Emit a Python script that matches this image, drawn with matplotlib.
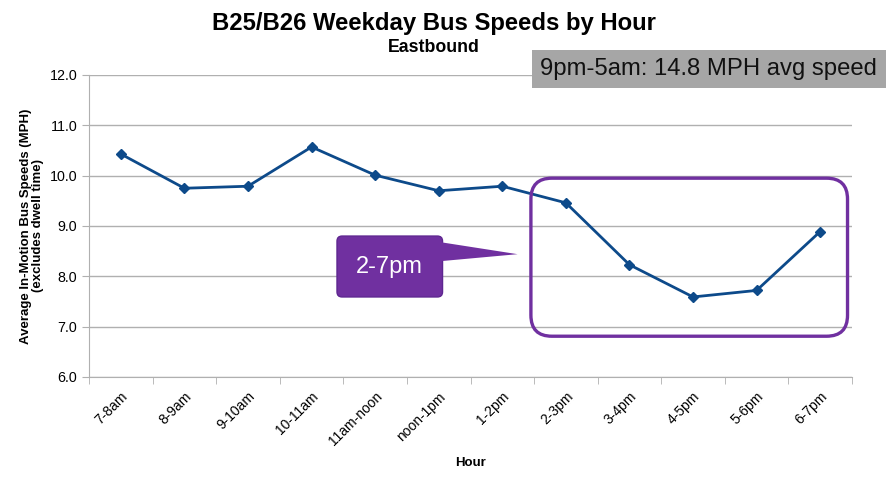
import matplotlib
matplotlib.use("Agg")
import matplotlib.pyplot as plt
from matplotlib.patches import FancyBboxPatch, Polygon, Rectangle
import numpy as np

plt.rcParams['font.family'] = ['Liberation Sans', 'DejaVu Sans']

# ---- data ----
hours = ["7-8am", "8-9am", "9-10am", "10-11am", "11am-noon", "noon-1pm",
         "1-2pm", "2-3pm", "3-4pm", "4-5pm", "5-6pm", "6-7pm"]
speeds = [10.43, 9.75, 9.79, 10.57, 10.01, 9.70, 9.79, 9.46, 8.23, 7.59, 7.72, 8.89]

LINE = "#0D4A8A"
PURPLE = "#7030A0"
GRID = "#B0B0B0"

fig = plt.figure(figsize=(8.86, 4.87), dpi=100)
ax = fig.add_axes([0.1005, 0.2259, 0.8611, 0.6201])

x = np.arange(len(hours))
ax.plot(x, speeds, color=LINE, lw=2, marker="D", ms=5.5, zorder=3)

ax.set_xlim(-0.5, len(hours) - 0.5)
ax.set_ylim(6.0, 12.0)
ax.set_yticks(np.arange(6.0, 12.01, 1.0))
ax.set_yticklabels([f"{v:.1f}" for v in np.arange(6.0, 12.01, 1.0)], fontsize=10.3)
ax.yaxis.grid(True, color=GRID, lw=1)
ax.set_axisbelow(True)

ax.set_xticks(x)
ax.set_xticklabels(hours, rotation=45, ha="right", rotation_mode="anchor", fontsize=10)
ax.tick_params(axis="x", which="major", length=0, pad=9)
ax.set_xticks(np.arange(-0.5, len(hours), 1.0), minor=True)
ax.tick_params(axis="x", which="minor", length=5, color=GRID)
ax.tick_params(axis="y", length=5, color=GRID)

for s in ["top", "right"]:
    ax.spines[s].set_visible(False)
for s in ["left", "bottom"]:
    ax.spines[s].set_color(GRID)

ax.set_xlabel("Hour", fontsize=9.5, fontweight="bold", labelpad=6)
ax.set_ylabel("Average In-Motion Bus Speeds (MPH)\n(excludes dwell time)",
              fontsize=9.5, fontweight="bold", labelpad=4, linespacing=1.0)

# titles
fig.text(0.49, 0.952, "B25/B26 Weekday Bus Speeds by Hour", ha="center", va="center",
         fontsize=17.2, fontweight="bold")
fig.text(0.49, 0.902, "Eastbound", ha="center", va="center", fontsize=12.8, fontweight="bold")

# gray note box
fig.patches.append(Rectangle((0.6005, 0.819), 0.4, 0.078, transform=fig.transFigure,
                             facecolor="#A6A6A6", edgecolor="none", zorder=5))
fig.text(0.80, 0.858, "9pm-5am: 14.8 MPH avg speed", ha="center", va="center",
         fontsize=17.2, color="#111111", zorder=6)

# purple highlight box around 2-7pm
asp = 63.6 / 50.3
hl = FancyBboxPatch((6.45, 6.81), 11.43 - 6.45, 9.95 - 6.81,
                    boxstyle="round,pad=0,rounding_size=0.33", mutation_aspect=asp,
                    facecolor="none", edgecolor=PURPLE, lw=2.4, clip_on=False, zorder=4)
ax.add_patch(hl)

# callout
co = FancyBboxPatch((3.40, 7.59), 5.06 - 3.40, 8.80 - 7.59,
                    boxstyle="round,pad=0,rounding_size=0.08", mutation_aspect=asp,
                    facecolor=PURPLE, edgecolor="#5E2690", lw=1, clip_on=False, zorder=4)
ax.add_patch(co)
ax.add_patch(Polygon([(5.02, 8.68), (6.24, 8.44), (5.02, 8.30)], closed=True,
                     facecolor=PURPLE, edgecolor="none", clip_on=False, zorder=4))
ax.text((3.40 + 5.06) / 2, (7.59 + 8.80) / 2, "2-7pm", ha="center", va="center",
        fontsize=17, color="white", zorder=5)

fig.savefig("out.png", dpi=100)
